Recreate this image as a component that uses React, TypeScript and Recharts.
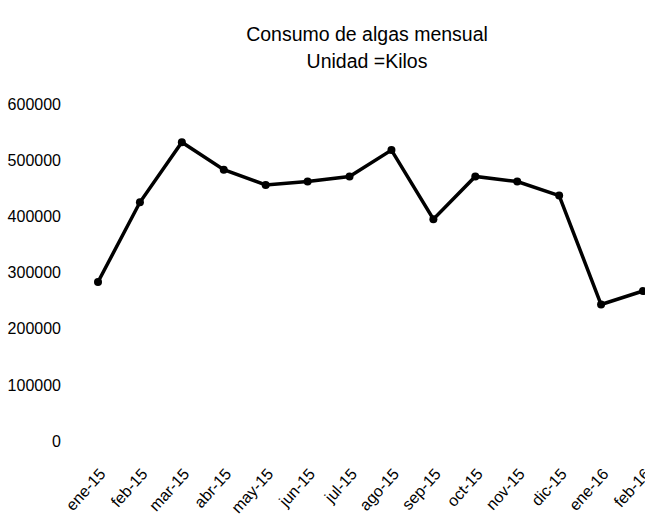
import { Line, LineChart, XAxis, YAxis } from 'recharts';

const months = [
  'ene-15', 'feb-15', 'mar-15', 'abr-15', 'may-15', 'jun-15', 'jul-15',
  'ago-15', 'sep-15', 'oct-15', 'nov-15', 'dic-15', 'ene-16', 'feb-16',
];
const kilos = [
  283000, 425000, 532000, 483000, 456000, 462000, 471000,
  518000, 395000, 471000, 462000, 437000, 243000, 267000,
];
const yTicks = [0, 100000, 200000, 300000, 400000, 500000, 600000];

const data = months.map((month, i) => ({ month, kilos: kilos[i] }));

const font = "'Liberation Sans', Arial, sans-serif";

export default function App() {
  return (
    <div style={{ position: 'absolute', left: 0, top: 0, width: 645, height: 521, background: '#fff', fontFamily: font }}>
      <div
        style={{
          position: 'absolute',
          left: 0,
          width: 645,
          top: 21,
          paddingLeft: 89,
          boxSizing: 'border-box',
          textAlign: 'center',
          fontSize: 19.5,
          lineHeight: '27px',
          color: '#000',
        }}
      >
        <div>Consumo de algas mensual</div>
        <div>Unidad =Kilos</div>
      </div>
      <LineChart width={645} height={521} data={data} margin={{ top: 104, right: 2, bottom: 0, left: 0 }}>
        <XAxis
          dataKey="month"
          axisLine={false}
          tickLine={false}
          interval={0}
          height={80}
          padding={{ left: 29, right: 0 }}
          angle={-48}
          textAnchor="end"
          tickMargin={20}
          tick={{ fill: '#000', fontSize: 16, fontFamily: font }}
        />
        <YAxis
          domain={[0, 600000]}
          ticks={yTicks}
          axisLine={false}
          tickLine={false}
          width={69}
          tick={{ fill: '#000', fontSize: 16, fontFamily: font }}
        />
        <Line
          type="linear"
          dataKey="kilos"
          stroke="#000"
          strokeWidth={3.5}
          dot={{ r: 4, fill: '#000', stroke: '#000', strokeWidth: 0 }}
          isAnimationActive={false}
        />
      </LineChart>
    </div>
  );
}
